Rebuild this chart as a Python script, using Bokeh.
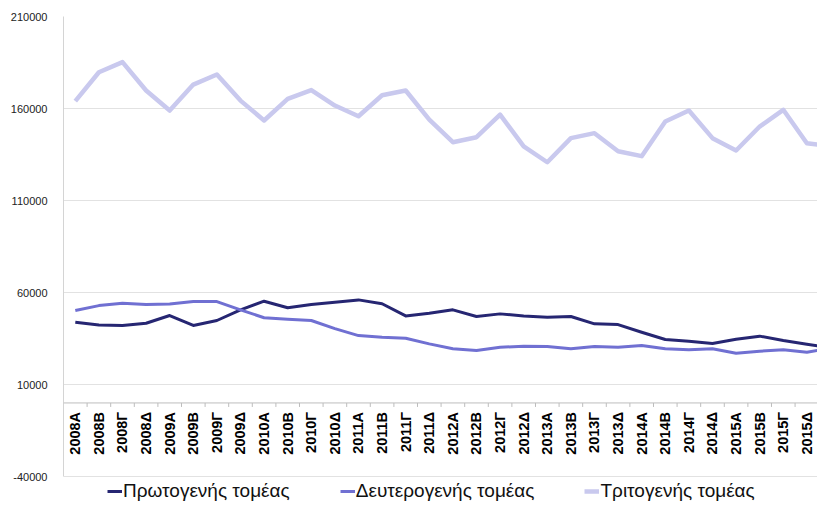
import numpy as np
from bokeh.plotting import figure
from bokeh.models import (Range1d, FixedTicker, PrintfTickFormatter, Span,
                          ColumnDataSource, Legend, LegendItem)
from bokeh.core.properties import value
from bokeh.embed import file_html
from bokeh.resources import INLINE

quarters = ["2008A", "2008B", "2008Γ", "2008Δ", "2009A", "2009B", "2009Γ", "2009Δ",
            "2010A", "2010B", "2010Γ", "2010Δ", "2011A", "2011B", "2011Γ", "2011Δ",
            "2012A", "2012B", "2012Γ", "2012Δ", "2013A", "2013B", "2013Γ", "2013Δ",
            "2014A", "2014B", "2014Γ", "2014Δ", "2015A", "2015B", "2015Γ", "2015Δ",
            "2016A"]

protogenis = [43900, 42400, 42100, 43300, 47500, 42100, 44800, 50600,
              55300, 51700, 53500, 54700, 56000, 53900, 47300, 48700,
              50600, 47000, 48400, 47300, 46600, 47000, 43000, 42600,
              38400, 34500, 33500, 32300, 34600, 36300, 33900, 31900,
              30000]

deuterogenis = [50200, 52900, 54200, 53500, 53800, 55100, 55100, 50600,
                46300, 45500, 44800, 40400, 36600, 35700, 35200, 32100,
                29400, 28500, 30300, 30800, 30700, 29400, 30700, 30300,
                31200, 29400, 28900, 29400, 27000, 28100, 28900, 27600,
                29800]

tritogenis = [164000, 179700, 185200, 169800, 158900, 173000, 178500, 164300,
              153500, 165200, 170000, 161600, 155800, 167200, 169800, 154000,
              141700, 144400, 156700, 139400, 130800, 143900, 146600, 136800,
              134100, 152900, 158900, 143900, 137200, 150200, 159300, 141100,
              139500]

series_names = ["Πρωτογενής τομέας", "Δευτερογενής τομέας", "Τριτογενής τομέας"]
y_ticks = [-40000, 10000, 60000, 110000, 160000, 210000]

colors = ["#262672", "#7070d2", "#c9c9ee"]
widths = [3, 3, 4.5]
FONT = "Liberation Sans"

n = len(quarters)
idx = np.arange(n)
n_shown = 32

p = figure(width=817, height=502, output_backend="svg", toolbar_location=None,
           x_range=Range1d(-0.5, 31.45), y_range=Range1d(-54100, 210000),
           x_axis_location=None, min_border_left=63, min_border_right=0,
           min_border_top=16, min_border_bottom=0)
p.outline_line_color = None
p.background_fill_color = "white"
p.xgrid.visible = False

ya = p.yaxis[0]
ya.ticker = FixedTicker(ticks=y_ticks)
ya.formatter = PrintfTickFormatter(format="%d")
ya.bounds = (y_ticks[0], y_ticks[-1])
ya.axis_line_color = "#d4d4d4"
ya.major_tick_line_color = None
ya.minor_tick_line_color = None
ya.major_label_standoff = 10
ya.major_label_text_font = FONT
ya.major_label_text_font_size = "11px"
ya.major_label_text_color = "#222222"

p.ygrid.ticker = FixedTicker(ticks=y_ticks)
p.ygrid.grid_line_color = "#e2e2e2"
p.ygrid.grid_line_width = 1

# x axis line at zero
p.add_layout(Span(location=0, dimension="width", line_color="#bdbdbd", line_width=1))

# ticks between categories
bounds_x = np.arange(n_shown + 1) - 0.5
tick_len = 4 * (250000 / 460)
p.segment(x0=bounds_x, y0=np.zeros(len(bounds_x)), x1=bounds_x,
          y1=np.full(len(bounds_x), -tick_len), line_color="#bdbdbd", line_width=1)

# category labels
lab_src = ColumnDataSource(dict(x=idx[:n_shown], y=np.zeros(n_shown), t=quarters[:n_shown]))
p.text(x="x", y="y", text="t", source=lab_src, angle=np.pi / 2,
       text_align="right", text_baseline="middle", y_offset=9,
       text_font=value(FONT), text_font_style="bold", text_font_size="14.5px",
       text_color="black")

renderers = []
for name, vals, c, w in zip(series_names, [protogenis, deuterogenis, tritogenis], colors, widths):
    r = p.line(idx, vals, line_color=c, line_width=w, line_join="round")
    renderers.append(r)

legend = Legend(items=[LegendItem(label=nm, renderers=[r]) for nm, r in zip(series_names, renderers)],
                orientation="horizontal", location=(44, 0),
                glyph_width=15, glyph_height=20, label_height=20,
                label_standoff=1, spacing=50, padding=0, margin=0,
                label_text_font=FONT, label_text_font_size="19px",
                label_text_color="#111111",
                border_line_color=None, background_fill_alpha=0)
p.add_layout(legend, "center")

open("out.html", "w").write(file_html(p, INLINE))
